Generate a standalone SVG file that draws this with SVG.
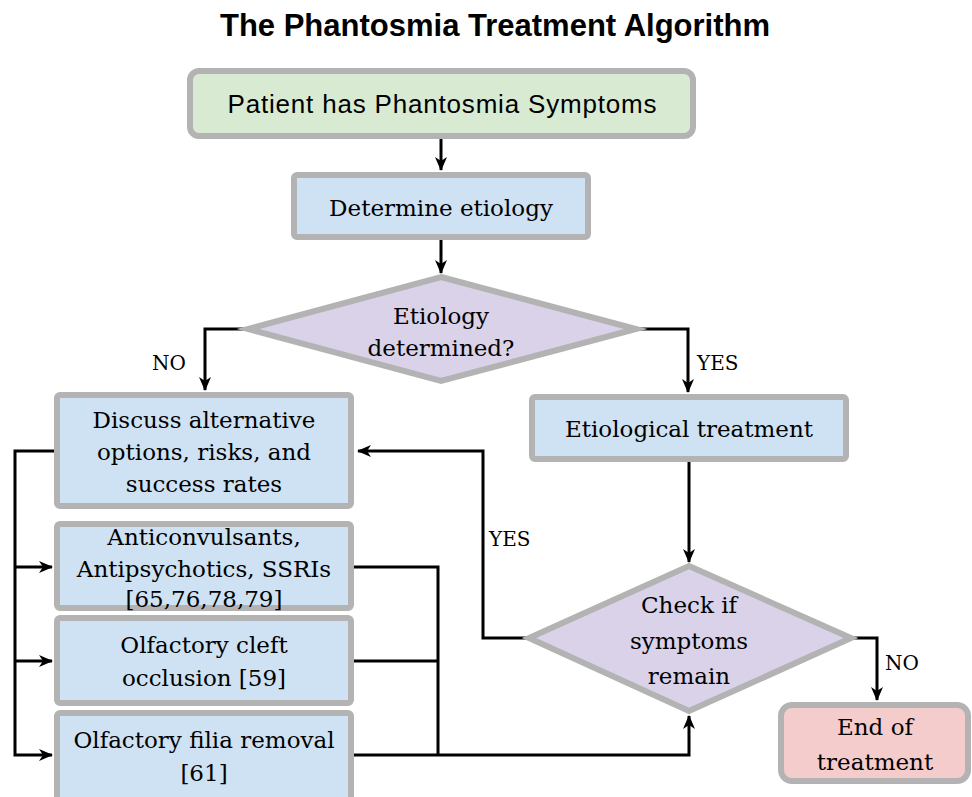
<svg xmlns="http://www.w3.org/2000/svg" width="972" height="797" viewBox="0 0 972 797">
<defs>
<marker id="ah" viewBox="0 0 14 12" refX="13" refY="6" markerWidth="14" markerHeight="12" markerUnits="userSpaceOnUse" orient="auto">
<path d="M0,0 L14,6 L0,12 L4,6 z" fill="#000"/>
</marker>
<style>
.box{stroke:#b3b3b3;stroke-width:6}
.blue{fill:#cfe2f3}
.green{fill:#d9ead3}
.purple{fill:#d9d2e9}
.pink{fill:#f4cccc}
.t{font-family:"DejaVu Serif","Liberation Serif",serif;font-size:23px;fill:#000;text-anchor:middle}
.lbl{font-family:"DejaVu Serif","Liberation Serif",serif;font-size:20px;fill:#000}
.s{font-family:"Liberation Sans","DejaVu Sans",sans-serif;font-size:26px;fill:#000;text-anchor:middle}
.title{font-family:"Liberation Sans","DejaVu Sans",sans-serif;font-size:31px;font-weight:bold;fill:#000;text-anchor:middle}
.c{fill:none;stroke:#000;stroke-width:3}
</style>
</defs>
<rect width="972" height="797" fill="#fff"/>
<text class="title" x="495" y="36">The Phantosmia Treatment Algorithm</text>

<g id="connectors">
<path class="c" d="M441,138 V170" marker-end="url(#ah)"/>
<path class="c" d="M441,239 V273" marker-end="url(#ah)"/>
<path class="c" d="M247,329 H205 V390" marker-end="url(#ah)"/>
<path class="c" d="M636,329 H688 V392" marker-end="url(#ah)"/>
<path class="c" d="M689,462 V562" marker-end="url(#ah)"/>
<path class="c" d="M527,638 H483 V451 H358" marker-end="url(#ah)"/>
<path class="c" d="M853,638 H877 V700" marker-end="url(#ah)"/>
<path class="c" d="M55,451 H15 V755 H52" marker-end="url(#ah)"/>
<path class="c" d="M15,567 H52" marker-end="url(#ah)"/>
<path class="c" d="M15,661 H52" marker-end="url(#ah)"/>
<path class="c" d="M353,567 H438 V755"/>
<path class="c" d="M353,661 H438"/>
<path class="c" d="M353,755 H689 V716" marker-end="url(#ah)"/>
<text class="lbl" x="152" y="370">NO</text>
<text class="lbl" x="697" y="370">YES</text>
<text class="lbl" x="489" y="546">YES</text>
<text class="lbl" x="885" y="670">NO</text>
</g>

<g id="start">
<rect class="box green" x="190" y="71" width="503" height="65" rx="9"/>
<text class="s" x="442" y="113" textLength="429">Patient has Phantosmia Symptoms</text>
</g>
<g id="determine">
<rect class="box blue" x="294" y="175" width="294" height="62" rx="3"/>
<text class="t" x="441" y="216">Determine etiology</text>
</g>
<g id="etiology-determined">
<polygon class="box purple" points="441,277 636,329 441,381 248,329"/>
<text class="t" x="441" y="324">Etiology</text>
<text class="t" x="441" y="356">determined?</text>
</g>
<g id="discuss">
<rect class="box blue" x="57" y="395" width="294" height="111" rx="3"/>
<text class="t" x="204" y="428">Discuss alternative</text>
<text class="t" x="204" y="460">options, risks, and</text>
<text class="t" x="204" y="492">success rates</text>
</g>
<g id="anticonvulsants">
<rect class="box blue" x="57" y="524" width="294" height="84" rx="3"/>
<text class="t" x="204" y="545">Anticonvulsants,</text>
<text class="t" x="204" y="577">Antipsychotics, SSRIs</text>
<text class="t" x="204" y="607">[65,76,78,79]</text>
</g>
<g id="cleft">
<rect class="box blue" x="57" y="618" width="294" height="85" rx="3"/>
<text class="t" x="204" y="653">Olfactory cleft</text>
<text class="t" x="204" y="686">occlusion [59]</text>
</g>
<g id="filia">
<rect class="box blue" x="57" y="713" width="294" height="90" rx="3"/>
<text class="t" x="204" y="748">Olfactory filia removal</text>
<text class="t" x="204" y="781">[61]</text>
</g>
<g id="etiological">
<rect class="box blue" x="532" y="397" width="314" height="62" rx="3"/>
<text class="t" x="689" y="437">Etiological treatment</text>
</g>
<g id="check">
<polygon class="box purple" points="689,566 851,638 689,711 529,638"/>
<text class="t" x="689" y="613">Check if</text>
<text class="t" x="689" y="649">symptoms</text>
<text class="t" x="689" y="684">remain</text>
</g>
<g id="end">
<rect class="box pink" x="781" y="705" width="187" height="76" rx="11"/>
<text class="t" x="875" y="735">End of</text>
<text class="t" x="875" y="770">treatment</text>
</g>
</svg>
